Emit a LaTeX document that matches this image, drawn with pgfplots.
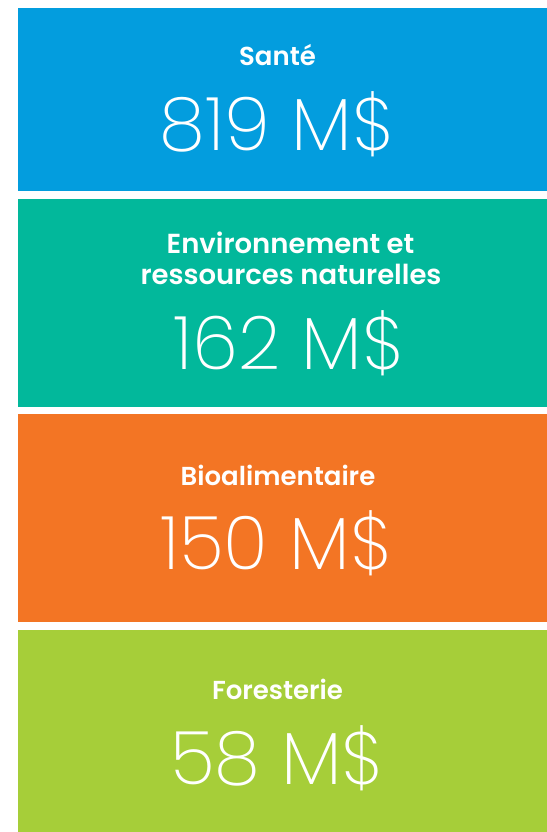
\documentclass[border=0pt]{standalone}
\usepackage{fontspec}
\usepackage{pgfplots}
\pgfplotsset{compat=1.18}
\setmainfont{Poppins}
\newfontfamily\labelfont{Poppins SemiBold}
\newfontfamily\valfont{Poppins ExtraLight}
\definecolor{cblue}{RGB}{3,157,222}
\definecolor{cteal}{RGB}{2,184,155}
\definecolor{corange}{RGB}{243,117,36}
\definecolor{cgreen}{RGB}{166,206,57}
\begin{document}
\begin{tikzpicture}
\begin{axis}[
  scale only axis, width=547bp, height=832bp,
  xmin=0, xmax=547, ymin=0, ymax=832, y dir=reverse,
  hide axis, clip=false,
]
% tiles
\addplot[fill=cblue, draw=none] coordinates {(18,8) (547,8) (547,190.7) (18,190.7)} -- cycle;
\addplot[fill=cteal, draw=none] coordinates {(18,199) (547,199) (547,406.7) (18,406.7)} -- cycle;
\addplot[fill=corange, draw=none] coordinates {(18,414) (547,414) (547,621.7) (18,621.7)} -- cycle;
\addplot[fill=cgreen, draw=none] coordinates {(18,630) (547,630) (547,832) (18,832)} -- cycle;
% values (M$)
\addplot[draw=none, mark=none, point meta=explicit symbolic,
  nodes near coords={\pgfplotspointmeta{} M\$},
  every node near coord/.style={anchor=base, inner sep=0pt, text=white,
    font=\valfont\fontsize{74bp}{74bp}\selectfont}]
  coordinates {(277,151)[819] (289,369)[162] (276,569)[150] (277,784)[58]};
% labels
\node[anchor=base, inner sep=0pt, text=white, font=\labelfont\fontsize{26bp}{31bp}\selectfont] at (axis cs:277.5,66) {Santé};
\node[anchor=base, inner sep=0pt, text=white, font=\labelfont\fontsize{27.5bp}{31bp}\selectfont] at (axis cs:290.5,253) {Environnement et};
\node[anchor=base, inner sep=0pt, text=white, font=\labelfont\fontsize{27.5bp}{31bp}\selectfont] at (axis cs:291,284) {ressources naturelles};
\node[anchor=base, inner sep=0pt, text=white, font=\labelfont\fontsize{26bp}{31bp}\selectfont] at (axis cs:278,485) {Bioalimentaire};
\node[anchor=base, inner sep=0pt, text=white, font=\labelfont\fontsize{26bp}{31bp}\selectfont] at (axis cs:277.5,699) {Foresterie};
\end{axis}
\pgfresetboundingbox
\path (0,0) rectangle (547bp,832bp);
\end{tikzpicture}
\end{document}
